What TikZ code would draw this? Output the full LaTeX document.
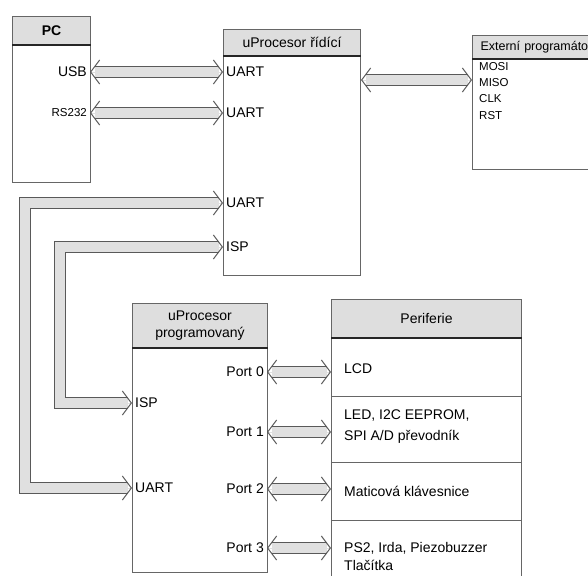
\documentclass[tikz,border=0pt]{standalone}
\usepackage{fontspec}
\setmainfont{Liberation Sans}
\usetikzlibrary{arrows.meta}

\tikzset{
	box/.style={draw=black!60, line width=1pt, fill=white, anchor=north west, inner sep=0pt},
	head/.style={box, fill=black!13, font=\fontsize{14}{17}\selectfont, align=center},
	sep/.style={draw=black!85, line width=2pt},
	rowline/.style={draw=black!60, line width=1pt},
	lab/.style={font=\fontsize{14}{17}\selectfont, inner sep=3pt},
	small/.style={font=\fontsize{11.5}{13}\selectfont, inner sep=3pt},
	bt/.tip={Straight Barb[length=9pt, width=24pt, line width=1pt, color=black!65]},
	bus/.style={
		preaction={draw=black!65, line width=12pt, shorten <=4.5pt, shorten >=4.5pt, -},
		preaction={draw=black!12, line width=9.6pt, shorten <=4.5pt, shorten >=4.5pt, -},
		draw=black!12, line width=0.8pt, bt-bt}
}

\begin{document}
\begin{tikzpicture}[x=1pt, y=-1pt]
		\useasboundingbox (0,0) rectangle (588,575);
		% PC
		\node[box, minimum width=78pt, minimum height=166pt] (pc)at(12,16) {};
		\node[head, minimum width=78pt, minimum height=28pt] (pchead)at(12,16) {\textbf{PC}};
		\draw[sep] (pchead.south west) -- (pchead.south east);
		\node[lab, anchor=east] (usb)at(90,72) {USB};
		\node[small, anchor=east] (rs)at(90,113) {RS232};
		% uProcesor ridici
		\node[box, minimum width=137pt, minimum height=246pt] (rid)at(223,29) {};
		\node[head, minimum width=137pt, minimum height=26pt] (ridhead)at(223,29) {uProcesor řídící};
		\draw[sep] (ridhead.south west) -- (ridhead.south east);
		\node[lab, anchor=west] (ua)at(223,72) {UART};
		\node[lab, anchor=west] (ub)at(223,113) {UART};
		\node[lab, anchor=west] (uc)at(223,203) {UART};
		\node[lab, anchor=west] (ispa)at(223,247) {ISP};
		% externi programator
		\node[box, minimum width=130pt, minimum height=134pt] (ext)at(472,35) {};
		\node[head, minimum width=130pt, minimum height=23pt, text width=114pt, inner xsep=8pt, align=left, font=\fontsize{12.5}{14}\selectfont] (exthead)at(472,35) {Externí programátor};
		\draw[sep] (exthead.south west) -- (exthead.south east);
		\node[small, anchor=west] (mosi)at(476,67) {MOSI};
		\node[small, anchor=west] (miso)at(476,83) {MISO};
		\node[small, anchor=west] (clk)at(476,99) {CLK};
		\node[small, anchor=west] (rst)at(476,116) {RST};
		\coordinate (extin) at (472,80);
		% uProcesor programovany
		\node[box, minimum width=135pt, minimum height=269pt] (prog)at(132,303) {};
		\node[head, minimum width=135pt, minimum height=44pt] (proghead)at(132,303) {uProcesor\\programovaný};
		\draw[sep] (proghead.south west) -- (proghead.south east);
		\node[lab, anchor=east] (p0)at(267,372) {Port 0};
		\node[lab, anchor=east] (p1)at(267,432) {Port 1};
		\node[lab, anchor=east] (p2)at(267,489) {Port 2};
		\node[lab, anchor=east] (p3)at(267,548) {Port 3};
		\node[lab, anchor=west] (ispb)at(132,403) {ISP};
		\node[lab, anchor=west] (ud)at(132,488) {UART};
		\coordinate (uturn) at (25,203);
		\coordinate (ispturn) at (60,247);
		% Periferie
		\node[box, minimum width=190pt, minimum height=290pt] (per)at(331,299) {};
		\node[head, minimum width=190pt, minimum height=38pt] (perhead)at(331,299) {Periferie};
		\draw[sep] (perhead.south west) -- (perhead.south east);
		\foreach \y in {396,462,520}
			\draw[rowline] (per.west |- 0,\y) -- (per.east |- 0,\y);
		\node[lab, anchor=west] (lcd)at(341,369) {LCD};
		\node[lab, anchor=west, align=left, font=\fontsize{14}{21}\selectfont] (led)at(341,427) {LED, I2C EEPROM,\\SPI A/D převodník};
		\node[lab, anchor=west] (mat)at(341,491) {Maticová klávesnice};
		\node[lab, anchor=west, align=left, font=\fontsize{14}{18}\selectfont] (ps)at(341,556) {PS2, Irda, Piezobuzzer\\Tlačítka};
		% sbernice
		\draw[bus] (usb.east) -- (ua.west);
		\draw[bus] (rs.east) -- (ub.west);
		\draw[bus] (extin -| rid.east) -- (extin);
		\draw[bus] (ud.west) -| (uturn) -- (uc.west);
		\draw[bus] (ispb.west) -| (ispturn) -- (ispa.west);
		\draw[bus] (p0.east) -- (p0 -| per.west);
		\draw[bus] (p1.east) -- (p1 -| per.west);
		\draw[bus] (p2.east) -- (p2 -| per.west);
		\draw[bus] (p3.east) -- (p3 -| per.west);
	\end{tikzpicture}
\end{document}
